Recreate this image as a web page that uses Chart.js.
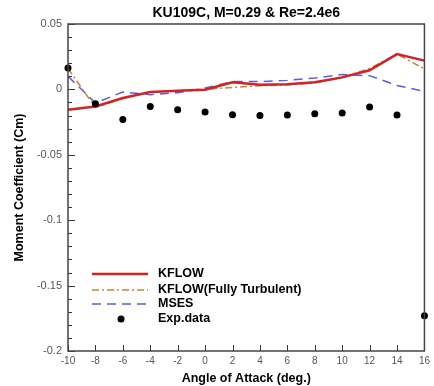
<!DOCTYPE html>
<html>
<head>
<meta charset="utf-8">
<script src="https://cdn.jsdelivr.net/npm/chart.js@4"></script>
<style>
html, body { margin: 0; padding: 0; background: #fff; }
#wrap { width: 434px; height: 386px; }
</style>
</head>
<body>
<div id="wrap"><canvas id="cm-chart"></canvas></div>
<script>
// angle of attack (deg.)
const alpha = [-10, -8, -6, -4, -2, 0, 2, 4, 6, 8, 10, 12, 14, 16];
const kflow = [-0.0155, -0.013, -0.0066, -0.002, -0.001, -0.0002, 0.0054, 0.0036, 0.004, 0.0054, 0.0092, 0.0146, 0.027, 0.022];
const kflowTurb = [0.016, -0.014, -0.007, -0.002, -0.001, 0.0, 0.0015, 0.0028, 0.0035, 0.005, 0.009, 0.016, 0.027, 0.0156];
const mses = [0.010, -0.0104, -0.002, -0.004, -0.0025, 0.001, 0.006, 0.006, 0.0069, 0.0087, 0.0113, 0.0105, 0.003, -0.0015];
const expData = [0.0164, -0.011, -0.023, -0.013, -0.0155, -0.0173, -0.0194, -0.020, -0.0196, -0.0186, -0.018, -0.0135, -0.0196, -0.173];

const xTickValues = [-10, -8, -6, -4, -2, 0, 2, 4, 6, 8, 10, 12, 14, 16];
const yTickValues = [0.05, 0, -0.05, -0.1, -0.15, -0.2];
const yTickLabels = ['0.05', '0', '-0.05', '-0.1', '-0.15', '-0.2'];
const yMinorTicks = [0.04, 0.03, 0.02, 0.01, -0.01, -0.02, -0.03, -0.04, -0.06, -0.07, -0.08, -0.09,
	-0.11, -0.12, -0.13, -0.14, -0.16, -0.17, -0.18, -0.19];
const chartTitle = 'KU109C, M=0.29 & Re=2.4e6';

const FONT = '"Liberation Sans", Arial, sans-serif';
const pts = (ys) => alpha.map((a, i) => ({ x: a, y: ys[i] }));

const frameTicks = {
	id: 'frameTicks',
	afterDatasetsDraw(chart) {
		const { ctx, chartArea: a, scales } = chart;
		ctx.save();
		ctx.strokeStyle = '#333';
		ctx.lineWidth = 1;
		ctx.beginPath();
		xTickValues.forEach(v => {
			const px = Math.round(scales.x.getPixelForValue(v)) + 0.5;
			ctx.moveTo(px, a.bottom);
			ctx.lineTo(px, a.bottom - 6);
		});
		yTickValues.forEach(v => {
			const py = Math.round(scales.y.getPixelForValue(v)) + 0.5;
			ctx.moveTo(a.left, py);
			ctx.lineTo(a.left + 7, py);
		});
		yMinorTicks.forEach(v => {
			const py = Math.round(scales.y.getPixelForValue(v)) + 0.5;
			ctx.moveTo(a.left, py);
			ctx.lineTo(a.left + 4, py);
		});
		ctx.stroke();
		ctx.lineWidth = 1.5;
		ctx.strokeStyle = '#444';
		ctx.strokeRect(a.left, a.top, a.right - a.left, a.bottom - a.top);
		ctx.restore();
	},
	afterDraw(chart) {
		const { ctx, chartArea: a } = chart;
		ctx.save();
		// title, centred over the plot area
		ctx.font = 'bold 14px ' + FONT;
		ctx.fillStyle = '#000';
		ctx.textAlign = 'center';
		ctx.textBaseline = 'middle';
		ctx.fillText(chartTitle, (a.left + a.right) / 2, 13);

		// legend inside the plot
		const rows = [274, 290, 304, 319];
		ctx.textAlign = 'left';
		ctx.font = 'bold 12.5px ' + FONT;
		chart.data.datasets.forEach((ds, i) => {
			const y = rows[i];
			if (ds.showLine === false) {
				ctx.beginPath();
				ctx.arc(121, y, 3.5, 0, Math.PI * 2);
				ctx.fillStyle = ds.pointBackgroundColor;
				ctx.fill();
			} else {
				ctx.beginPath();
				ctx.strokeStyle = ds.borderColor;
				ctx.lineWidth = ds.borderWidth;
				ctx.setLineDash(ds.borderDash || []);
				ctx.moveTo(92, y);
				ctx.lineTo(148, y);
				ctx.stroke();
				ctx.setLineDash([]);
			}
			ctx.fillStyle = '#000';
			ctx.fillText(ds.label, 158, y);
		});
		ctx.restore();
	}
};

new Chart(document.getElementById('cm-chart'), {
	type: 'line',
	data: {
		datasets: [{
			label: 'KFLOW',
			data: pts(kflow),
			borderColor: '#d42222',
			borderWidth: 2.5,
			pointRadius: 0,
			order: 2
		}, {
			label: 'KFLOW(Fully Turbulent)',
			data: pts(kflowTurb),
			borderColor: '#c8843c',
			borderWidth: 1.5,
			borderDash: [7, 3, 2, 3],
			pointRadius: 0,
			order: 3
		}, {
			label: 'MSES',
			data: pts(mses),
			borderColor: '#5b5be8',
			borderWidth: 1.5,
			borderDash: [9, 6],
			pointRadius: 0,
			order: 4
		}, {
			label: 'Exp.data',
			data: pts(expData),
			showLine: false,
			pointRadius: 3.5,
			pointBackgroundColor: '#000',
			pointBorderColor: '#000',
			pointBorderWidth: 0,
			clip: false,
			order: 1
		}]
	},
	options: {
		responsive: true,
		maintainAspectRatio: false,
		devicePixelRatio: 1,
		animation: false,
		layout: { padding: { left: 0, right: 8, top: 24, bottom: 0 } },
		plugins: {
			legend: { display: false },
			tooltip: { enabled: false },
			title: { display: false }
		},
		scales: {
			x: {
				type: 'linear',
				min: -10,
				max: 16,
				afterBuildTicks: (s) => { s.ticks = xTickValues.map(v => ({ value: v })); },
				afterFit: (s) => { s.height = 35; },
				grid: { display: false, drawTicks: false },
				border: { display: false },
				ticks: {
					color: '#555',
					padding: 4,
					font: { family: FONT, size: 10 }
				},
				title: {
					display: true,
					text: 'Angle of Attack (deg.)',
					color: '#000',
					font: { family: FONT, size: 12.5, weight: 'bold' },
					padding: { top: 1, bottom: 0 }
				}
			},
			y: {
				type: 'linear',
				min: -0.2,
				max: 0.05,
				afterBuildTicks: (s) => { s.ticks = yTickValues.map(v => ({ value: v })); },
				afterFit: (s) => { s.width = 68; },
				grid: { display: false, drawTicks: false },
				border: { display: false },
				ticks: {
					color: '#555',
					padding: 6,
					font: { family: FONT, size: 11 },
					callback: (v, i) => yTickLabels[i]
				},
				title: {
					display: true,
					text: 'Moment Coefficient (Cm)',
					color: '#000',
					font: { family: FONT, size: 12.5, weight: 'bold' },
					padding: { top: 12, bottom: 4 }
				}
			}
		}
	},
	plugins: [frameTicks]
});
</script>
</body>
</html>
